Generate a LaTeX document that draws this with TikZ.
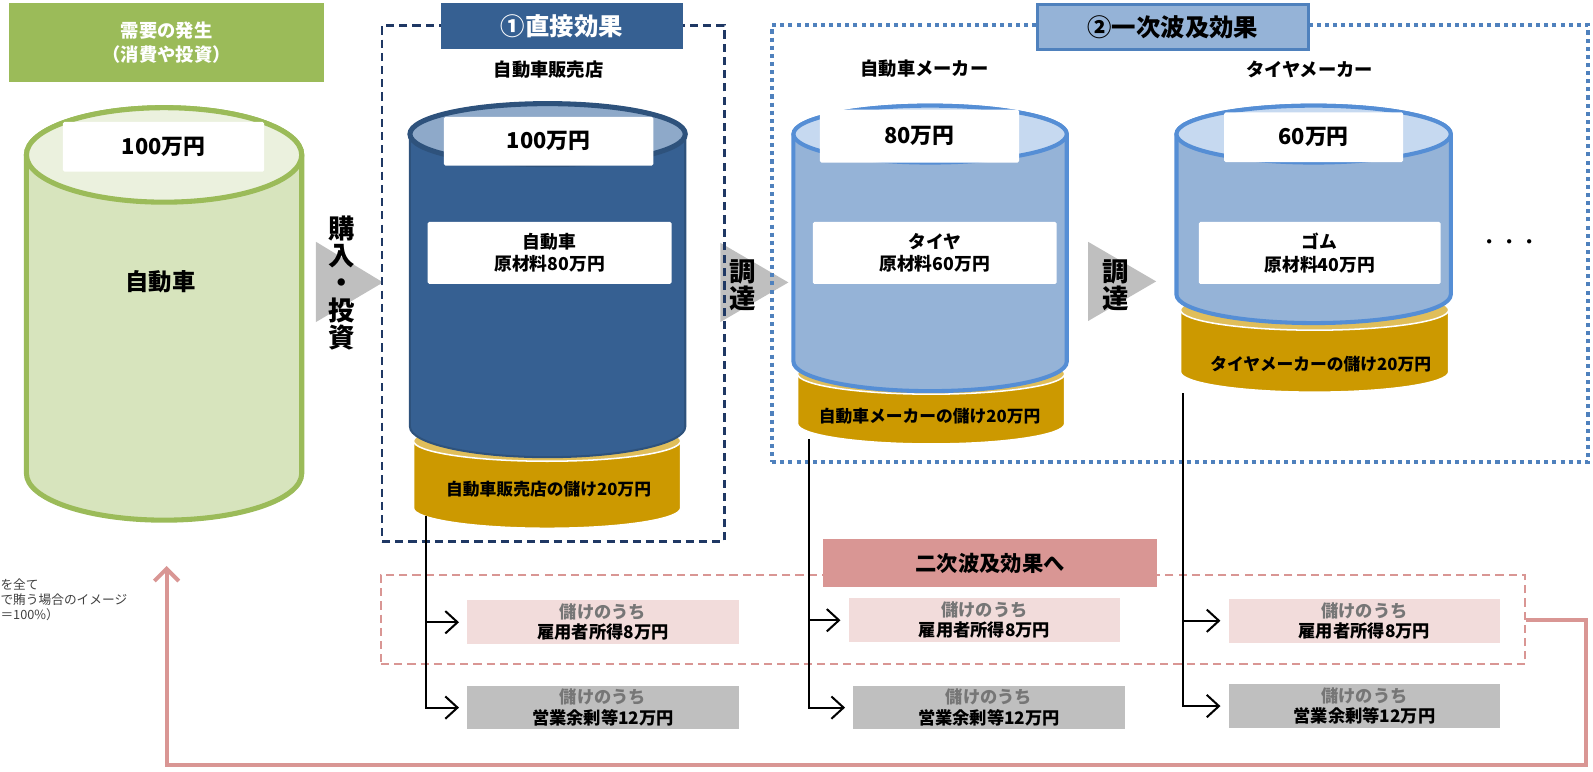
\documentclass[tikz,border=0pt]{standalone}
\usepackage{fontspec}
\setmainfont{Noto Sans CJK JP}
\usetikzlibrary{arrows.meta}

\definecolor{demandgreen}{RGB}{155,187,89}
\definecolor{demandbody}{RGB}{215,228,189}
\definecolor{demandtop}{RGB}{235,241,222}
\definecolor{directblue}{RGB}{54,96,146}
\definecolor{directtop}{RGB}{142,169,201}
\definecolor{directline}{RGB}{31,56,100}
\definecolor{rippleblue}{RGB}{149,179,215}
\definecolor{rippleline}{RGB}{85,142,213}
\definecolor{rippletop}{RGB}{198,217,240}
\definecolor{dotblue}{RGB}{79,129,189}
\definecolor{profitgold}{RGB}{204,153,0}
\definecolor{profittop}{RGB}{224,190,90}
\definecolor{induced}{RGB}{217,150,148}
\definecolor{inducedlight}{RGB}{242,220,219}
\definecolor{surplusgray}{RGB}{191,191,191}
\definecolor{labelgray}{RGB}{118,118,118}

\begin{document}
\begin{tikzpicture}[x=1pt,y=-1pt,
        header/.style={fill=demandgreen,text=white,align=center,minimum width=310pt,minimum height=78pt,font=\bfseries\fontsize{18}{23}\selectfont},
        valuebox/.style={fill=white,rounded corners=1.5pt,font=\bfseries\fontsize{21.5}{24}\selectfont},
        itembox/.style={fill=white,rounded corners=1.5pt,align=center,minimum width=240pt,minimum height=61pt,font=\bfseries\fontsize{17.5}{22}\selectfont},
        company/.style={font=\bfseries\fontsize{18}{20}\selectfont},
        flow/.style={align=center,font=\bfseries\fontsize{26}{27}\selectfont},
        profit/.style={font=\bfseries\fontsize{16.5}{18}\selectfont},
        demandcyl/.style={draw=demandgreen,line width=5pt,fill=demandbody},
        directcyl/.style={draw=directblue!85!black,line width=2pt,fill=directblue},
        ripplecyl/.style={draw=rippleline,line width=4pt,fill=rippleblue},
        profitcyl/.style={draw=white,line width=1.5pt,fill=profitgold},
        share/.style={align=center,minimum width=267pt,minimum height=43pt,font=\bfseries\fontsize{17}{20}\selectfont},
        income/.style={share,fill=inducedlight},
        surplus/.style={share,fill=surplusgray},
        branch/.style={line width=2pt,-{Straight Barb[length=12pt,width=22pt]},shorten >=8pt},
        feedback/.style={draw=induced,line width=4pt,-{Straight Barb[length=12pt,width=24pt]}}
    ]
    \useasboundingbox (0,0) rectangle (1568,759);

    \fill[surplusgray] (311,238) -- (311,317) -- (377,278) -- cycle;
    \fill[surplusgray] (709,239) -- (709,317) -- (776,278) -- cycle;
    \fill[surplusgray] (1071,238) -- (1071,316) -- (1138,277) -- cycle;

    % demand
    \node[header] (demand) at (164,42) {需要の発生\\（消費や投資）};
    \draw[demandcyl] (26,152.5) -- (26,466) arc[start angle=180,end angle=0,x radius=135.5,y radius=46] -- (297,152.5) arc[start angle=0,end angle=-180,x radius=135.5,y radius=46.5] -- cycle;
    \draw[demandcyl,fill=demandtop] (161.5,152.5) ellipse[x radius=135.5,y radius=46.5];
    \node[valuebox,minimum width=198pt,minimum height=49pt] (v0) at (161,144.5) {100万円};
    \node[font=\bfseries\fontsize{23}{26}\selectfont] (car0) at (158,277) {自動車};

    \node[flow] (buy) at (336,278.5) {購\\入\\・\\投\\資};

    % direct effect
    \draw[profitcyl] (407,434) -- (407,500) arc[start angle=180,end angle=0,x radius=131.5,y radius=20] -- (670,434) arc[start angle=0,end angle=-180,x radius=131.5,y radius=20] -- cycle;
    \draw[profitcyl,fill=profittop] (538.5,434) ellipse[x radius=131.5,y radius=20];
    \draw[directcyl] (403.5,132) -- (403.5,420) arc[start angle=180,end angle=0,x radius=135.5,y radius=30] -- (674.5,132) arc[start angle=0,end angle=-180,x radius=135.5,y radius=30] -- cycle;
    \draw[directcyl,line width=5pt,fill=directtop] (539,132) ellipse[x radius=135.5,y radius=30];
    \node[valuebox,minimum width=206pt,minimum height=48pt] (v1) at (540,139) {100万円};
    \node[itembox] (m1) at (541,249) {自動車\\原材料80万円};
    \node[profit] (p1) at (540,482) {自動車販売店の儲け20万円};

    \node[flow] (buy1) at (731,281) {調\\達};

    % first ripple
    \draw[profitcyl] (785,368) -- (785,417) arc[start angle=180,end angle=0,x radius=131.5,y radius=20] -- (1048,368) arc[start angle=0,end angle=-180,x radius=131.5,y radius=20] -- cycle;
    \draw[profitcyl,fill=profittop] (916.5,368) ellipse[x radius=131.5,y radius=20];
    \draw[ripplecyl] (781,132) -- (781,356) arc[start angle=180,end angle=0,x radius=134.5,y radius=29] -- (1050,132) arc[start angle=0,end angle=-180,x radius=134.5,y radius=28] -- cycle;
    \draw[ripplecyl,fill=rippletop] (915.5,132) ellipse[x radius=134.5,y radius=28];
    \node[valuebox,minimum width=196pt,minimum height=52pt] (v2) at (905,134) {80万円};
    \node[itembox] (m2) at (920,249) {タイヤ\\原材料60万円};
    \node[profit] (p2) at (915,410) {自動車メーカーの儲け20万円};

    \node[flow] (buy2) at (1098,281) {調\\達};

    \draw[profitcyl] (1162,305) -- (1162,366) arc[start angle=180,end angle=0,x radius=132,y radius=20] -- (1426,305) arc[start angle=0,end angle=-180,x radius=132,y radius=20] -- cycle;
    \draw[profitcyl,fill=profittop] (1294,305) ellipse[x radius=132,y radius=20];
    \draw[ripplecyl] (1158,132) -- (1158,290) arc[start angle=180,end angle=0,x radius=135,y radius=28] -- (1428,132) arc[start angle=0,end angle=-180,x radius=135,y radius=28] -- cycle;
    \draw[ripplecyl,fill=rippletop] (1293,132) ellipse[x radius=135,y radius=28];
    \node[valuebox,minimum width=176pt,minimum height=49pt] (v3) at (1293,135) {60万円};
    \node[itembox,minimum width=238pt] (m3) at (1299,249) {ゴム\\原材料40万円};
    \node[profit] (p3) at (1300,358) {タイヤメーカーの儲け20万円};

    \node[font=\fontsize{20}{20}\selectfont] (more) at (1486,241) {・・・};

    % frames
    \node[draw=directline,line width=2.5pt,dash pattern=on 8pt off 5pt,minimum width=337pt,minimum height=508pt] (direct) at (544.5,279) {};
    \node[fill=directblue,text=white,minimum width=238pt,minimum height=45pt,font=\bfseries\fontsize{24}{26}\selectfont] (t1) at (553,25.5) {①直接効果};
    \node[draw=dotblue,line width=4pt,dash pattern=on 4pt off 4pt,minimum width=803pt,minimum height=430pt] (ripple) at (1161.5,240) {};
    \node[draw=dotblue,line width=3pt,fill=rippleblue,minimum width=266pt,minimum height=44pt,font=\bfseries\fontsize{24}{26}\selectfont] (t2) at (1154.5,26.5) {②一次波及効果};

    \node[company] (c1) at (540,69) {自動車販売店};
    \node[company] (c2) at (910,68) {自動車メーカー};
    \node[company] (c3) at (1289,68) {タイヤメーカー};

    % second ripple
    \node[draw=induced,line width=2pt,dash pattern=on 8pt off 5pt,minimum width=1126pt,minimum height=88pt] (second) at (938,610) {};
    \node[fill=induced,minimum width=329pt,minimum height=47pt,font=\bfseries\fontsize{21}{24}\selectfont] (t3) at (974.5,554.5) {二次波及効果へ};

    \node[income] (e1) at (593.5,612.5) {\textcolor{labelgray}{儲けのうち}\\雇用者所得8万円};
    \node[income] (e2) at (969,610.5) {\textcolor{labelgray}{儲けのうち}\\雇用者所得8万円};
    \node[income] (e3) at (1343,611) {\textcolor{labelgray}{儲けのうち}\\雇用者所得8万円};
    \node[surplus] (s1) at (593.5,696.5) {\textcolor{labelgray}{儲けのうち}\\営業余剰等12万円};
    \node[surplus] (s2) at (973.5,696.5) {\textcolor{labelgray}{儲けのうち}\\営業余剰等12万円};
    \node[surplus] (s3) at (1343,695) {\textcolor{labelgray}{儲けのうち}\\営業余剰等12万円};

    \coordinate (g1) at (419,508);
    \coordinate (g2) at (796,432);
    \coordinate (g3) at (1164,387);
    \draw[branch] (g1) |- (s1.west);
    \draw[branch] (g1 |- e1.west) -- (e1.west);
    \draw[branch] (g2) |- (s2.west);
    \draw[branch] (g2 |- e2.west) -- (e2.west);
    \draw[branch] (g3) |- (s3.west);
    \draw[branch] (g3 |- e3.west) -- (e3.west);

    \coordinate (back) at (164,557);
    \draw[feedback] (second.east) -- ++(59,0) -- ++(0,143) -| (back);

    \node[anchor=north west,align=left,text=black!75,font=\fontsize{12.5}{15}\selectfont] (note) at (-3,566) {を全て\\で賄う場合のイメージ\\＝100\%）};

\end{tikzpicture}
\end{document}
